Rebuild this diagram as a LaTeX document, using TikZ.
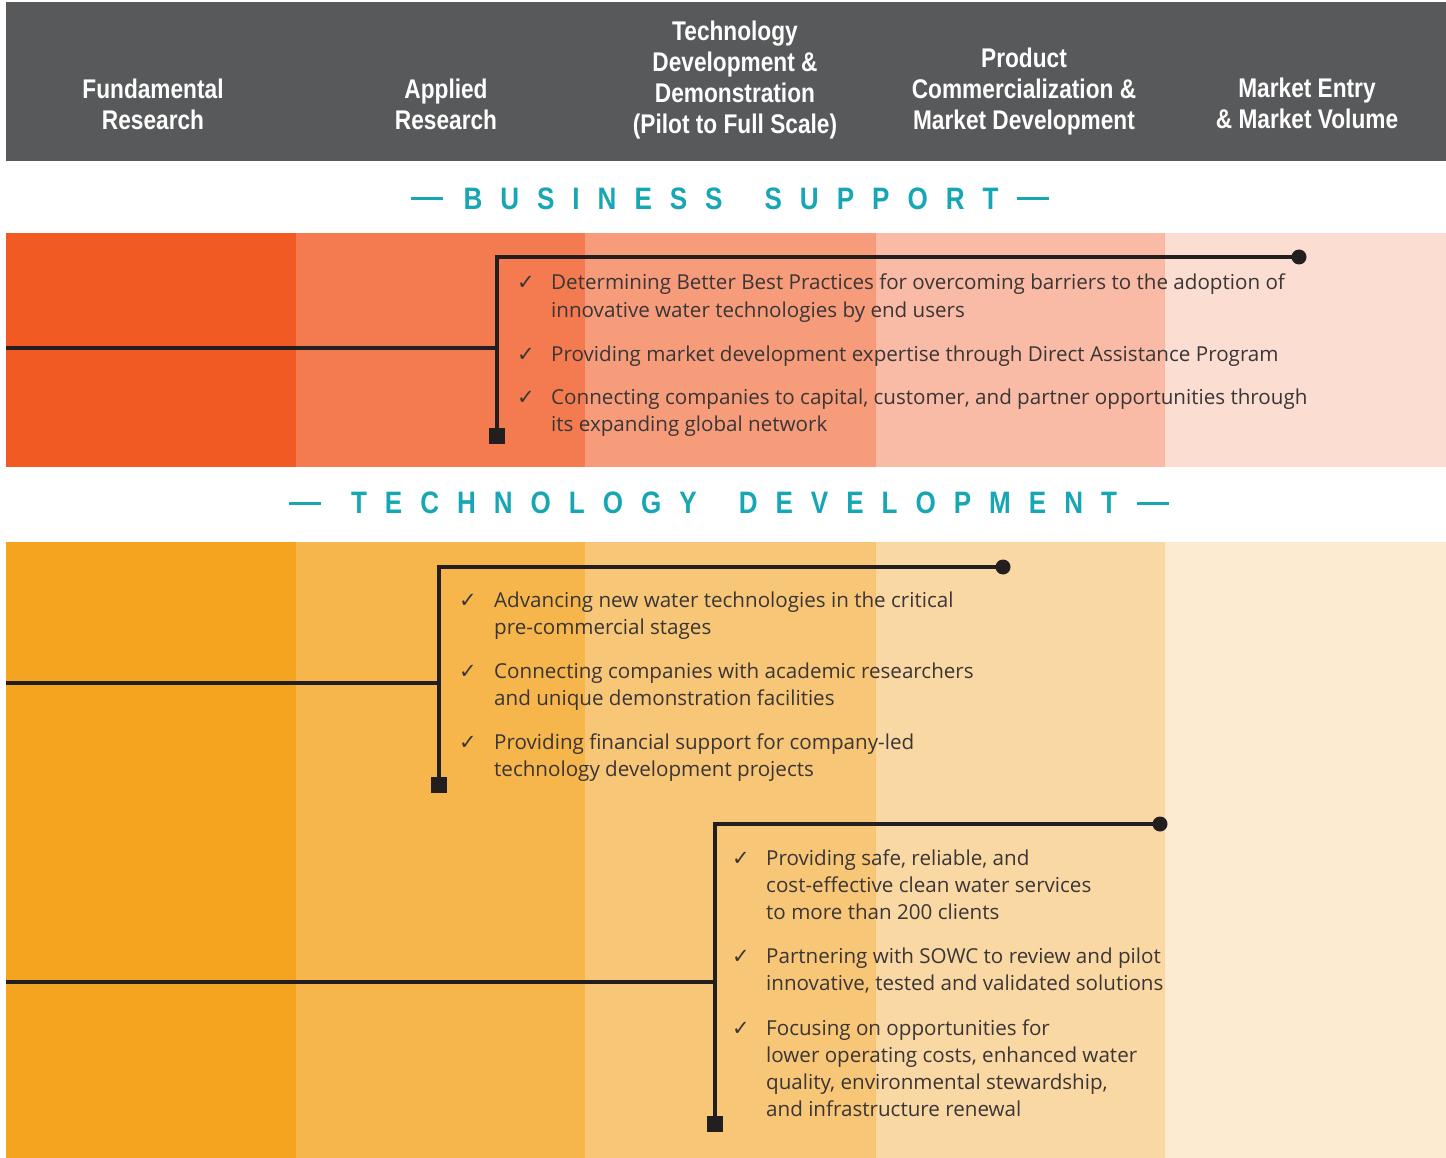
\documentclass[tikz,border=0pt]{standalone}
\usepackage{fontspec}
\setmainfont{Open Sans}
\newfontfamily\hdrfont[FakeStretch=0.84]{Liberation Sans}
\newfontfamily\symfont{DejaVu Sans}
\definecolor{hdrgray}{HTML}{58595B}
\definecolor{tealc}{HTML}{17A6B4}
\definecolor{bA}{HTML}{F15A22}
\definecolor{bB}{HTML}{F47B4F}
\definecolor{bC}{HTML}{F69C7A}
\definecolor{bD}{HTML}{F9BBA5}
\definecolor{bE}{HTML}{FCDDD1}
\definecolor{tA}{HTML}{F4A41F}
\definecolor{tB}{HTML}{F6B64C}
\definecolor{tC}{HTML}{F8C677}
\definecolor{tD}{HTML}{FAD8A3}
\definecolor{tE}{HTML}{FDEBD1}
\definecolor{textc}{HTML}{3A3536}
\definecolor{linec}{HTML}{231F20}
\newcommand\lsp{\hspace{18pt}}
\tikzset{
  hdr/.style={align=center, text=white, inner sep=0pt, font=\hdrfont\bfseries\fontsize{27}{31}\selectfont},
  ttl/.style={text=tealc, inner sep=0pt, font=\hdrfont\bfseries\fontsize{31}{31}\selectfont},
  tdash/.style={draw=tealc, line width=3pt},
  conn/.style={draw=linec, line width=4pt},
  sqr/.style={fill=linec, minimum size=16pt, inner sep=0pt, outer sep=0pt},
  dotc/.style={circle, fill=linec, minimum size=15pt, inner sep=0pt},
  item/.style={anchor=base west, align=left, inner sep=0pt, text=textc, font=\fontsize{20.6}{27.3}\selectfont},
  chk/.style={anchor=base west, inner sep=0pt, text=textc, font=\symfont\fontsize{21}{24}\selectfont},
  sepb/.style={draw=#1, line width=1pt},
}
\begin{document}
\begin{tikzpicture}[x=1pt,y=-1pt]
\useasboundingbox (0,0) rectangle (1446,1158);
% header
\fill[hdrgray] (6,2) rectangle (1446,161);
% business band
\fill[bA] (6,233) rectangle (296,467);
\fill[bB] (296,233) rectangle (585,467);
\fill[bC] (585,233) rectangle (875,467);
\fill[bD] (875,233) rectangle (1164,467);
\fill[bE] (1164,233) rectangle (1446,467);
\draw[sepb=bC!85!bB] (875,233) -- (875,467);
\draw[sepb=bD!85!bC] (1164,233) -- (1164,467);
% technology band
\fill[tA] (6,542) rectangle (296,1158);
\fill[tB] (296,542) rectangle (585,1158);
\fill[tC] (585,542) rectangle (875,1158);
\fill[tD] (875,542) rectangle (1164,1158);
\fill[tE] (1164,542) rectangle (1446,1158);
\draw[sepb=tC!80!tB] (875,542) -- (875,1158);
\draw[sepb=tD!85!tC] (1164,542) -- (1164,1158);

% header texts
\node[hdr] (h1) at (153,104.5) {Fundamental\\Research};
\node[hdr] (h2) at (446,104.5) {Applied\\Research};
\node[hdr] (h3) at (735,80.5) {Technology\\Development \&\\Demonstration\\(Pilot to Full Scale)};
\node[hdr] (h4) at (1024,92) {Product\\Commercialization \&\\Market Development};
\node[hdr] (h5) at (1307,103) {Market Entry\\\& Market Volume};

% titles
\node[ttl] (bs) at (731,199) {B\lsp U\lsp S\lsp I\lsp N\lsp E\lsp S\lsp S\hspace{42pt}S\lsp U\lsp P\lsp P\lsp O\lsp R\lsp T};
\draw[tdash] ([xshift=-20pt]bs.west) -- ++(-32,0);
\draw[tdash] ([xshift=18pt]bs.east) -- ++(32,0);
\node[ttl] (td) at (734,503) {T\lsp E\lsp C\lsp H\lsp N\lsp O\lsp L\lsp O\lsp G\lsp Y\hspace{42pt}D\lsp E\lsp V\lsp E\lsp L\lsp O\lsp P\lsp M\lsp E\lsp N\lsp T};
\draw[tdash] ([xshift=-30pt]td.west) -- ++(-32,0);
\draw[tdash] ([xshift=20pt]td.east) -- ++(32,0);

% business connectors
\coordinate (bL) at (6,348);
\coordinate (bJ) at (497,348);
\coordinate (bT) at (497,257);
\coordinate (bBot) at (497,435.5);
\coordinate (bEnd) at (1299,257);
\draw[conn] (bL) -- (bJ);
\draw[conn] (bBot) -- (bT) -- (bEnd);
\node[sqr] (bsq) at (bBot) {};
\node[dotc] (bdot) at (bEnd) {};

% business items (anchored at baseline of last line)
\node[chk] (bc1) at (517,290) {✓};
\node[item] (bi1) at (551,317.3) {Determining Better Best Practices for overcoming barriers to the adoption of\\innovative water technologies by end users};
\node[chk] (bc2) at (517,361) {✓};
\node[item] (bi2) at (551,361) {Providing market development expertise through Direct Assistance Program};
\node[chk] (bc3) at (517,404) {✓};
\node[item] (bi3) at (551,431.3) {Connecting companies to capital, customer, and partner opportunities through\\its expanding global network};

% tech 1 connectors
\coordinate (aL) at (6,683);
\coordinate (aJ) at (439,683);
\coordinate (aT) at (439,567);
\coordinate (aBot) at (439,785);
\coordinate (aEnd) at (1003,567);
\draw[conn] (aL) -- (aJ);
\draw[conn] (aBot) -- (aT) -- (aEnd);
\node[sqr] (asq) at (aBot) {};
\node[dotc] (adot) at (aEnd) {};

\node[chk] (ac1) at (459,607) {✓};
\node[item] (ai1) at (494,634.3) {Advancing new water technologies in the critical\\pre-commercial stages};
\node[chk] (ac2) at (459,678) {✓};
\node[item] (ai2) at (494,705.3) {Connecting companies with academic researchers\\and unique demonstration facilities};
\node[chk] (ac3) at (459,749) {✓};
\node[item] (ai3) at (494,776.3) {Providing financial support for company-led\\technology development projects};

% tech 2 connectors
\coordinate (cL) at (6,982);
\coordinate (cJ) at (715,982);
\coordinate (cT) at (715,824);
\coordinate (cBot) at (715,1123.5);
\coordinate (cEnd) at (1160,824);
\draw[conn] (cL) -- (cJ);
\draw[conn] (cBot) -- (cT) -- (cEnd);
\node[sqr] (csq) at (cBot) {};
\node[dotc] (cdot) at (cEnd) {};

\node[chk] (cc1) at (732,865) {✓};
\node[item] (ci1) at (766,919.6) {Providing safe, reliable, and\\cost-effective clean water services\\to more than 200 clients};
\node[chk] (cc2) at (732,963) {✓};
\node[item] (ci2) at (766,990.3) {Partnering with SOWC to review and pilot\\innovative, tested and validated solutions};
\node[chk] (cc3) at (732,1035) {✓};
\node[item] (ci3) at (766,1116.9) {Focusing on opportunities for\\lower operating costs, enhanced water\\quality, environmental stewardship,\\and infrastructure renewal};
\end{tikzpicture}
\end{document}
